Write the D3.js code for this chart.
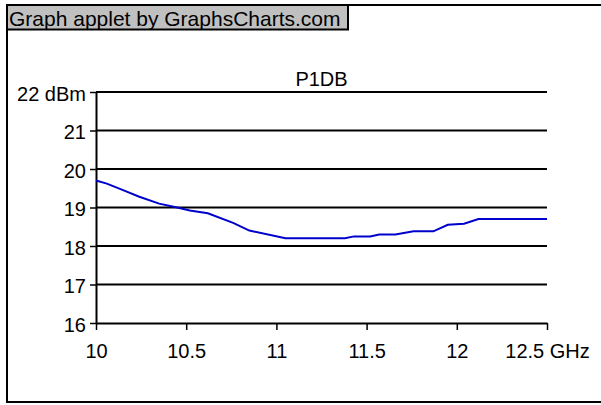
<!DOCTYPE html>
<html><head><meta charset="utf-8">
<script src="https://cdn.jsdelivr.net/npm/d3@7"></script>
<style>body{margin:0;background:#fff}svg{display:block;font-family:"Liberation Sans",Arial,sans-serif}</style>
</head><body>
<svg id="c" width="601" height="405"></svg>
<script>
const title = "P1DB";
const header = "Graph applet by GraphsCharts.com";
const freqGHz = [10.00,10.06,10.15,10.24,10.35,10.45,10.52,10.62,10.76,10.85,11.05,11.38,11.43,11.52,11.57,11.66,11.76,11.87,11.95,12.04,12.12,12.50];
const p1db    = [19.70,19.62,19.45,19.28,19.10,19.00,18.92,18.85,18.60,18.40,18.20,18.20,18.25,18.25,18.30,18.30,18.38,18.38,18.55,18.58,18.70,18.70];
const xTicks = [10,10.5,11,11.5,12,12.5];
const xTickLabels = ["10","10.5","11","11.5","12","12.5 GHz"];
const yTicks = [16,17,18,19,20,21,22];
const yTickLabels = ["16","17","18","19","20","21","22 dBm"];

const FONT = "Liberation Sans, Arial, sans-serif";
const svg = d3.select("#c");
// outer frame
svg.append("rect").attr("x",7).attr("y",5).attr("width",610).attr("height",397)
  .attr("fill","#fff").attr("stroke","#000").attr("stroke-width",2);
// header
svg.append("rect").attr("x",7).attr("y",5).attr("width",341).attr("height",24.5)
  .attr("fill","#c0c0c0").attr("stroke","#000").attr("stroke-width",2);
svg.append("text").attr("x",9).attr("y",26).attr("font-size",21).text(header);

const x = d3.scaleLinear().domain([10,12.5]).range([96,547]);
const y = d3.scaleLinear().domain([16,22]).range([323,92]);

// gridlines
svg.append("g").selectAll("line").data(yTicks.slice(1)).join("line")
  .attr("x1",96).attr("x2",547).attr("y1",d=>y(d)).attr("y2",d=>y(d))
  .attr("stroke","#000").attr("stroke-width",2);

// y axis
const ya = svg.append("g").attr("transform","translate(96,0)")
  .call(d3.axisLeft(y).tickValues(yTicks).tickSize(6).tickSizeOuter(0).tickPadding(4)
    .tickFormat((d,i)=>yTickLabels[i]));
ya.select(".domain").attr("stroke","#000").attr("stroke-width",2);
ya.selectAll(".tick line").attr("stroke","#000").attr("stroke-width",1.5);
ya.selectAll("text").attr("font-size",20).attr("font-family",FONT).attr("fill","#000").attr("dy","0.42em");

// x axis
const xa = svg.append("g").attr("transform","translate(0,323)")
  .call(d3.axisBottom(x).tickValues(xTicks).tickSize(7).tickSizeOuter(0).tickPadding(14)
    .tickFormat((d,i)=>xTickLabels[i]));
xa.select(".domain").attr("stroke","#000").attr("stroke-width",2);
xa.selectAll(".tick line").attr("stroke","#000").attr("stroke-width",1.5);
xa.selectAll("text").attr("font-size",20).attr("font-family",FONT).attr("fill","#000");

// title
svg.append("text").attr("x",(x(10)+x(12.5))/2).attr("y",86).attr("text-anchor","middle")
  .attr("font-size",20).text(title);

// line
const line = d3.line().x((d,i)=>x(freqGHz[i])).y(d=>y(d));
svg.append("path").datum(p1db).attr("d",line).attr("fill","none")
  .attr("stroke","#0000cc").attr("stroke-width",2);
</script>
</body></html>
